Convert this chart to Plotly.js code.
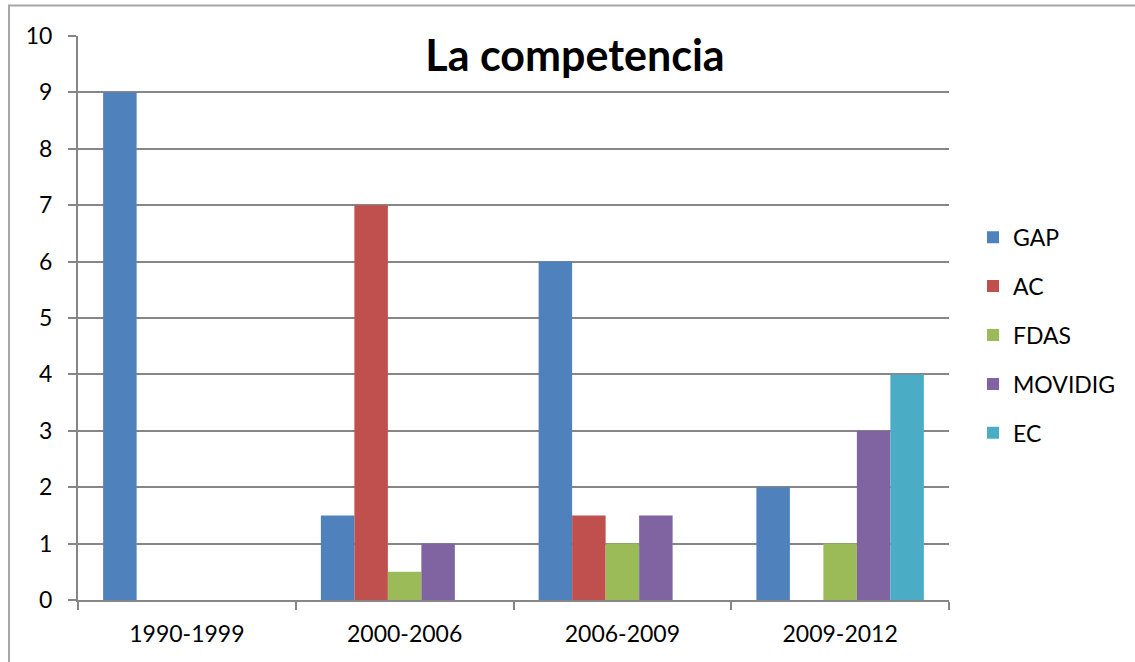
<!DOCTYPE html>
<html>
<head>
<meta charset="utf-8">
<script src="https://cdn.plot.ly/plotly-3.0.1.min.js"></script>
<style>html,body{margin:0;padding:0;background:#fff;}#chart{width:1135px;height:662px;}</style>
</head>
<body>
<div id="chart"></div>
<script>
const categories = ["1990-1999", "2000-2006", "2006-2009", "2009-2012"];
const seriesNames = ["GAP", "AC", "FDAS", "MOVIDIG", "EC"];
const GAP = [9, 1.5, 6, 2];
const AC = [0, 7, 1.5, 0];
const FDAS = [0, 0.5, 1, 1];
const MOVIDIG = [0, 1, 1.5, 3];
const EC = [0, 0, 0, 4];
const yTicks = [0, 1, 2, 3, 4, 5, 6, 7, 8, 9, 10];
const titleText = "La competencia";

const seriesValues = [GAP, AC, FDAS, MOVIDIG, EC];
const colors = ["#4F81BD", "#C0504D", "#9BBB59", "#8064A2", "#4BACC6"];
const FONT = "Lato, Carlito, Calibri, sans-serif";

const traces = seriesNames.map((n, i) => ({
  type: "bar",
  name: n,
  x: categories,
  y: seriesValues[i],
  marker: {color: colors[i], line: {width: 0}},
  legendgroup: n,
  hoverinfo: "x+y+name"
}));

const L = 78, R = 949, T = 35.5, B = 600, W = 1135, H = 662;
const pw = R - L, ph = B - T;

const layout = {
  width: W, height: H,
  margin: {l: L, r: W - R, t: T, b: H - B, pad: 0},
  paper_bgcolor: "#fff",
  plot_bgcolor: "#fff",
  barmode: "group",
  bargap: 0.2308,
  bargroupgap: 0,
  font: {family: FONT, size: 23, color: "#000"},
  title: {
    text: "<b>" + titleText + "</b>",
    font: {family: FONT, size: 43, color: "#000"},
    x: 575 / W, xanchor: "center", xref: "container",
    y: 1 - 56 / H, yanchor: "middle", yref: "container"
  },
  xaxis: {
    type: "category",
    showline: true, linecolor: "#868686", linewidth: 2,
    ticks: "outside", ticklen: 8, tickcolor: "#868686", tickwidth: 2,
    tickson: "boundaries",
    showgrid: false, zeroline: false,
    tickfont: {family: FONT, size: 23, color: "#000"},
    ticklabelstandoff: 12,
    automargin: false
  },
  yaxis: {
    range: [0, 10],
    tickvals: yTicks,
    ticktext: yTicks.map(String),
    showline: true, linecolor: "#868686", linewidth: 2,
    ticks: "outside", ticklen: 8, tickcolor: "#868686", tickwidth: 2,
    showgrid: true, gridcolor: "#868686", gridwidth: 2,
    zeroline: false,
    tickfont: {family: FONT, size: 23, color: "#000"},
    ticklabelstandoff: 11,
    automargin: false
  },
  legend: {
    x: (973 - L) / pw, xanchor: "left",
    y: (B - 335) / ph, yanchor: "middle",
    traceorder: "grouped",
    tracegroupgap: 16,
    font: {family: FONT, size: 23, color: "#000"},
    bgcolor: "rgba(0,0,0,0)",
    itemclick: false
  },
  shapes: [{
    type: "rect", xref: "paper", yref: "paper",
    x0: (9 - L) / pw, x1: (W + 20 - L) / pw,
    y0: (B - (H + 20)) / ph, y1: (B - 5) / ph,
    line: {color: "#a6a6a6", width: 2},
    fillcolor: "rgba(0,0,0,0)",
    layer: "below"
  }],
  showlegend: true
};

Plotly.newPlot("chart", traces, layout, {displayModeBar: false, responsive: false});
</script>
</body>
</html>
